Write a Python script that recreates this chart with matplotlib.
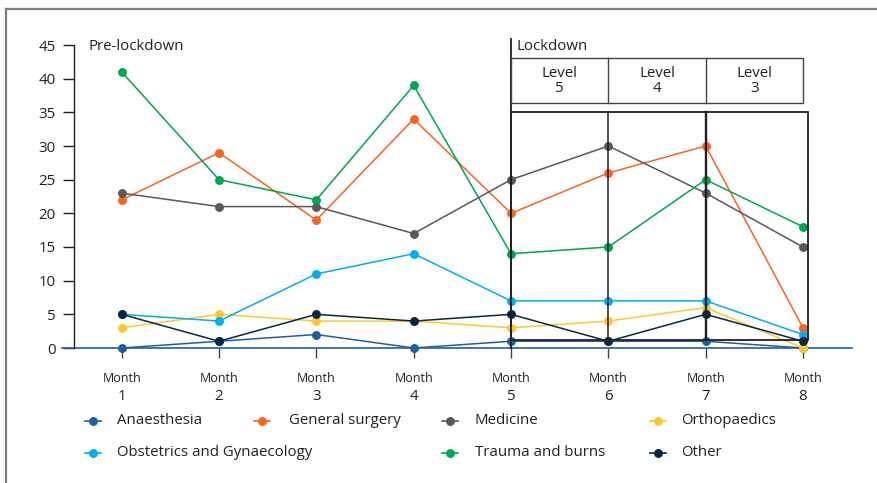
import matplotlib
matplotlib.use("Agg")
import matplotlib.pyplot as plt
from matplotlib.lines import Line2D
from matplotlib.patches import Rectangle

plt.rcParams['font.family'] = ['Open Sans', 'DejaVu Sans']

months = [1, 2, 3, 4, 5, 6, 7, 8]
month_labels = ["1", "2", "3", "4", "5", "6", "7", "8"]
yticks = [0, 5, 10, 15, 20, 25, 30, 35, 40, 45]

anaesthesia = [0, 1, 2, 0, 1, 1, 1, 0]
general_surgery = [22, 29, 19, 34, 20, 26, 30, 3]
medicine = [23, 21, 21, 17, 25, 30, 23, 15]
orthopaedics = [3, 5, 4, 4, 3, 4, 6, 0]
obs_gyn = [5, 4, 11, 14, 7, 7, 7, 2]
trauma = [41, 25, 22, 39, 14, 15, 25, 18]
other = [5, 1, 5, 4, 5, 1, 5, 1]

series = [
    ("Anaesthesia", anaesthesia, "#1f5fa0"),
    ("General surgery", general_surgery, "#f26522"),
    ("Medicine", medicine, "#58595b"),
    ("Orthopaedics", orthopaedics, "#fdc82f"),
    ("Obstetrics and Gynaecology", obs_gyn, "#00aeef"),
    ("Trauma and burns", trauma, "#00a651"),
    ("Other", other, "#0b2545"),
]

lockdown_levels = ["Level\n5", "Level\n4", "Level\n3"]

W, H = 877, 483
fig = plt.figure(figsize=(W / 100, H / 100), dpi=100)
fig.patch.set_facecolor("white")

# axes in pixel coordinates
L, R, T, B = 62, 852, 45, 348
ax = fig.add_axes([L / W, 1 - B / H, (R - L) / W, (B - T) / H])
ax.set_facecolor("none")

m1, m8 = 121.7, 803.0
ppm = (m8 - m1) / 7
xl = 1 - (m1 - L) / ppm
xr = 8 + (R - m8) / ppm
ax.set_xlim(xl, xr)
ax.set_ylim(0, 45)
ppu = (B - T) / 45.0

def px2x(px):
    return 1 + (px - m1) / ppm

def py2y(py):
    return (B - py) / ppu

txt = "#231f20"
fs = 10.8

for name, vals, col in series:
    ax.plot(months, vals, color=col, lw=1.1, marker="o", ms=5.4,
            clip_on=False, zorder=3)

# spines
for s in ["top", "right"]:
    ax.spines[s].set_visible(False)
ax.spines["left"].set_position(("data", px2x(74)))
ax.spines["left"].set_bounds(0, 45)
ax.spines["left"].set_color(txt)
ax.spines["left"].set_linewidth(1.0)
ax.spines["bottom"].set_color("#1f5fa0")
ax.spines["bottom"].set_linewidth(1.2)
ax.spines["bottom"].set_zorder(2)

ax.set_yticks(yticks)
ax.set_yticklabels([str(v) for v in yticks], fontsize=fs, color=txt)
ax.tick_params(axis="y", direction="out", length=8, width=1.0, color=txt, pad=5)
ax.set_xticks(months)
ax.set_xticklabels([])
ax.tick_params(axis="x", direction="out", length=7.5, width=1.0, color="#444444")

for m, lab in zip(months, month_labels):
    ax.text(m, py2y(378), "Month", ha="center", va="center", fontsize=9,
            color=txt, clip_on=False)
    ax.text(m, py2y(397), lab, ha="center", va="center", fontsize=fs,
            color=txt, clip_on=False)

# period labels
ax.text(px2x(88), py2y(46), "Pre-lockdown", ha="left", va="center",
        fontsize=fs, color=txt, clip_on=False)
ax.text(5 + 5 / ppm, py2y(46), "Lockdown", ha="left", va="center",
        fontsize=fs, color=txt, clip_on=False)

# lockdown structure
ax.plot([5, 5], [0, py2y(39)], color=txt, lw=1.3, clip_on=False, zorder=5)
hy0, hy1 = py2y(103), py2y(58)
ax.add_patch(Rectangle((5, hy0), 3.0, hy1 - hy0, fill=False, ec="#444444",
                       lw=1.0, clip_on=False, zorder=5))
for xd in [6, 7]:
    ax.plot([xd, xd], [hy0, hy1], color="#444444", lw=1.0, clip_on=False, zorder=5)
for i, lab in enumerate(lockdown_levels):
    ax.text(5.5 + i, (hy0 + hy1) / 2, lab, ha="center", va="center",
            fontsize=fs, color=txt, linespacing=1.0, clip_on=False)

by0, by1 = py2y(339.5), py2y(112)
bx1 = px2x(808)
ax.add_patch(Rectangle((5, by0), bx1 - 5, by1 - by0, fill=False, ec=txt,
                       lw=1.3, clip_on=False, zorder=5))
ax.plot([6, 6], [by0, by1], color=txt, lw=1.1, clip_on=False, zorder=5)
ax.plot([7, 7], [by0, by1], color=txt, lw=1.7, clip_on=False, zorder=5)

# legend (manual layout)
rows = [421, 453]
legend_pos = [
    (93, 0, 117), (262, 0, 289), (450, 0, 475), (658, 0, 681),
    (93, 1, 117), (450, 1, 475), (658, 1, 681),
]
for (name, vals, col), (mx, r, tx) in zip(series, legend_pos):
    yy = 1 - rows[r] / H
    fig.add_artist(Line2D([(mx - 8) / W, (mx + 8) / W], [yy, yy], color=col,
                          lw=1.2, transform=fig.transFigure))
    fig.add_artist(Line2D([mx / W], [yy], color=col, marker="o", ms=5.4,
                          lw=0, transform=fig.transFigure))
    fig.text(tx / W, yy, name, ha="left", va="center", fontsize=fs, color=txt)

# outer frame (top and left edges visible)
fc = "#7f7f7f"
fig.add_artist(Line2D([6 / W, 1.0], [1 - 9 / H, 1 - 9 / H], color=fc, lw=1.6,
                      transform=fig.transFigure))
fig.add_artist(Line2D([6 / W, 6 / W], [1 - 9 / H, 0], color=fc, lw=1.6,
                      transform=fig.transFigure))

fig.savefig("out.png", dpi=100)
